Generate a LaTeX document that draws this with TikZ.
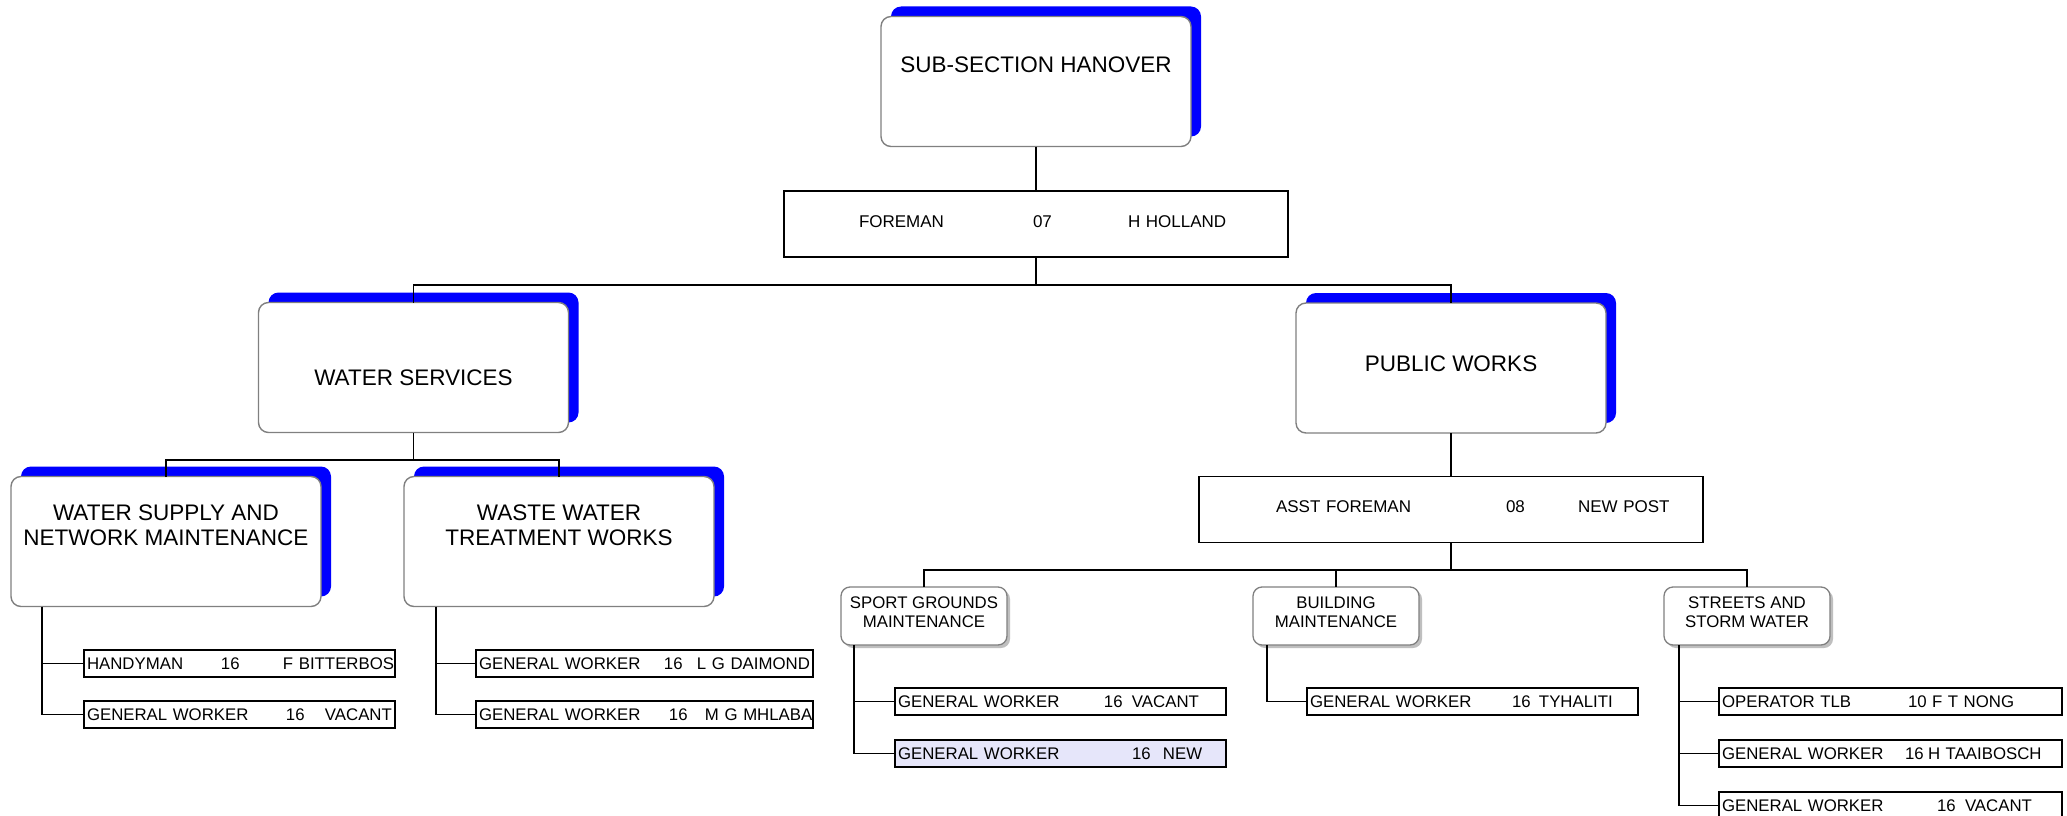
\documentclass[tikz,border=0pt]{standalone}
\usepackage{fontspec}
\setmainfont{Liberation Sans}
\usetikzlibrary{shadows}
\definecolor{newpost}{RGB}{230,230,250}
\definecolor{frame}{RGB}{128,128,128}
\begin{document}
\begin{tikzpicture}[x=1pt,y=-1pt,
  dept/.style={draw=frame, line width=1.4pt, fill=white, rounded corners=10pt,
    minimum width=310pt, minimum height=130pt, inner sep=0pt, outer sep=0pt,
    drop shadow={shadow xshift=10pt, shadow yshift=10pt, fill=blue, opacity=1}},
  unit/.style={draw=frame, line width=1.3pt, fill=white, rounded corners=9pt,
    minimum width=166pt, minimum height=58pt, inner sep=0pt, outer sep=0pt,
    drop shadow={shadow xshift=3pt, shadow yshift=-3pt, fill=black!25, opacity=1}},
  post/.style={draw, line width=1.3pt, fill=white, minimum height=66pt, inner ysep=0pt,
    outer sep=0pt, align=left, text depth=5pt, font=\fontsize{17pt}{19pt}\selectfont},
  job/.style={draw, line width=1.2pt, fill=white, minimum height=27pt, inner xsep=3pt,
    inner ysep=0pt, outer sep=0pt, align=left, font=\fontsize{16.8pt}{19pt}\selectfont},
  big/.style={inner sep=0pt, align=center, font=\fontsize{22.5pt}{25pt}\selectfont},
  small/.style={inner sep=0pt, align=center, font=\fontsize{16.8pt}{19pt}\selectfont},
  link/.style={line width=1.3pt}]
\path[use as bounding box, fill=white] (0,0) rectangle (2067,816);

% sections
\node[dept] (hanover) at (1036,81.5) {};
\node[dept] (water) at (413.5,367.5) {};
\node[dept] (public) at (1451,368) {};
\node[dept] (supply) at (166,541.5) {};
\node[dept] (waste) at (559,541.5) {};
\node[unit] (sport) at (924,616) {};
\node[unit] (building) at (1336,616) {};
\node[unit] (streets) at (1747,616) {};

% foremen
\node[post, text width=354pt, inner xsep=75pt] (foreman) at (1036,224)
  {\makebox[174pt][l]{FOREMAN}\makebox[95pt][l]{07}\rlap{H HOLLAND}};
\node[post, text width=350pt, inner xsep=77pt] (asst) at (1451,509.5)
  {\makebox[230pt][l]{ASST FOREMAN}\makebox[72pt][l]{08}\rlap{NEW POST}};

% posts
\node[job, text width=305pt] (hdy) at (239.5,663.5) {\makebox[134pt][l]{HANDYMAN}\makebox[62pt][l]{16}\rlap{F BITTERBOS}};
\node[job, text width=305pt] (gwa) at (239.5,714.5) {\makebox[199pt][l]{GENERAL WORKER}\makebox[39pt][l]{16}\rlap{VACANT}};
\node[job, text width=331pt] (gwb) at (644.5,663.5) {\makebox[185pt][l]{GENERAL WORKER}\makebox[33pt][l]{16}\rlap{L G DAIMOND}};
\node[job, text width=331pt] (gwc) at (644.5,714.5) {\makebox[190pt][l]{GENERAL WORKER}\makebox[36pt][l]{16}\rlap{M G MHLABA}};
\node[job, text width=325pt] (gwd) at (1060.5,701.5) {\makebox[206pt][l]{GENERAL WORKER}\makebox[28pt][l]{16}\rlap{VACANT}};
\node[job, text width=325pt, fill=newpost] (gwe) at (1060.5,753.5) {\makebox[234pt][l]{GENERAL WORKER}\makebox[31pt][l]{16}\rlap{NEW}};
\node[job, text width=325pt] (gwf) at (1472.5,701.5) {\makebox[202pt][l]{GENERAL WORKER}\makebox[27pt][l]{16}\rlap{TYHALITI}};
\node[job, text width=337pt] (opr) at (1890.5,701.5) {\makebox[186pt][l]{OPERATOR TLB}\makebox[24pt][l]{10}\rlap{F T NONG}};
\node[job, text width=337pt] (gwg) at (1890.5,753.5) {\makebox[183pt][l]{GENERAL WORKER}\makebox[23pt][l]{16}\rlap{H TAAIBOSCH}};
\node[job, text width=337pt] (gwh) at (1890.5,805.5) {\makebox[215pt][l]{GENERAL WORKER}\makebox[28pt][l]{16}\rlap{VACANT}};

% connectors
\coordinate (fk) at (1036,285);
\coordinate (wk) at (413.5,460);
\coordinate (ak) at (1451,570);
\draw[link] (hanover.south) -- (foreman.north);
\draw[link] (foreman.south) -- (fk) -| (water.north) (fk) -| (public.north);
\draw[link] (water.south) -- (wk) -| (supply.north) (wk) -| (waste.north);
\draw[link] (public.south) -- (asst.north);
\draw[link] (asst.south) -- (ak) -| (sport.north) (ak) -| (building.north) (ak) -| (streets.north);
\draw[link] (supply.south west) ++(31,0) coordinate (sv) |- (hdy.west) (sv) |- (gwa.west);
\draw[link] (waste.south west) ++(32,0) coordinate (tv) |- (gwb.west) (tv) |- (gwc.west);
\draw[link] (sport.south west) ++(13,0) coordinate (gv) |- (gwd.west) (gv) |- (gwe.west);
\draw[link] (building.south west) ++(14,0) |- (gwf.west);
\draw[link] (streets.south west) ++(15,0) coordinate (rv) |- (opr.west) (rv) |- (gwg.west) (rv) |- (gwh.west);

% titles
\node[big] (hanoverT) at (1036,65) {SUB-SECTION HANOVER};
\node[big] (waterT) at (413.5,378) {WATER SERVICES};
\node[big] (publicT) at (1451,364) {PUBLIC WORKS};
\node[big] (supplyT) at (166,525.5) {WATER SUPPLY AND\\NETWORK MAINTENANCE};
\node[big] (wasteT) at (559,525.5) {WASTE WATER\\TREATMENT WORKS};
\node[small] (sportT) at (924,612.5) {SPORT GROUNDS\\MAINTENANCE};
\node[small] (buildingT) at (1336,612.5) {BUILDING\\MAINTENANCE};
\node[small] (streetsT) at (1747,612.5) {STREETS AND\\STORM WATER};
\end{tikzpicture}
\end{document}
